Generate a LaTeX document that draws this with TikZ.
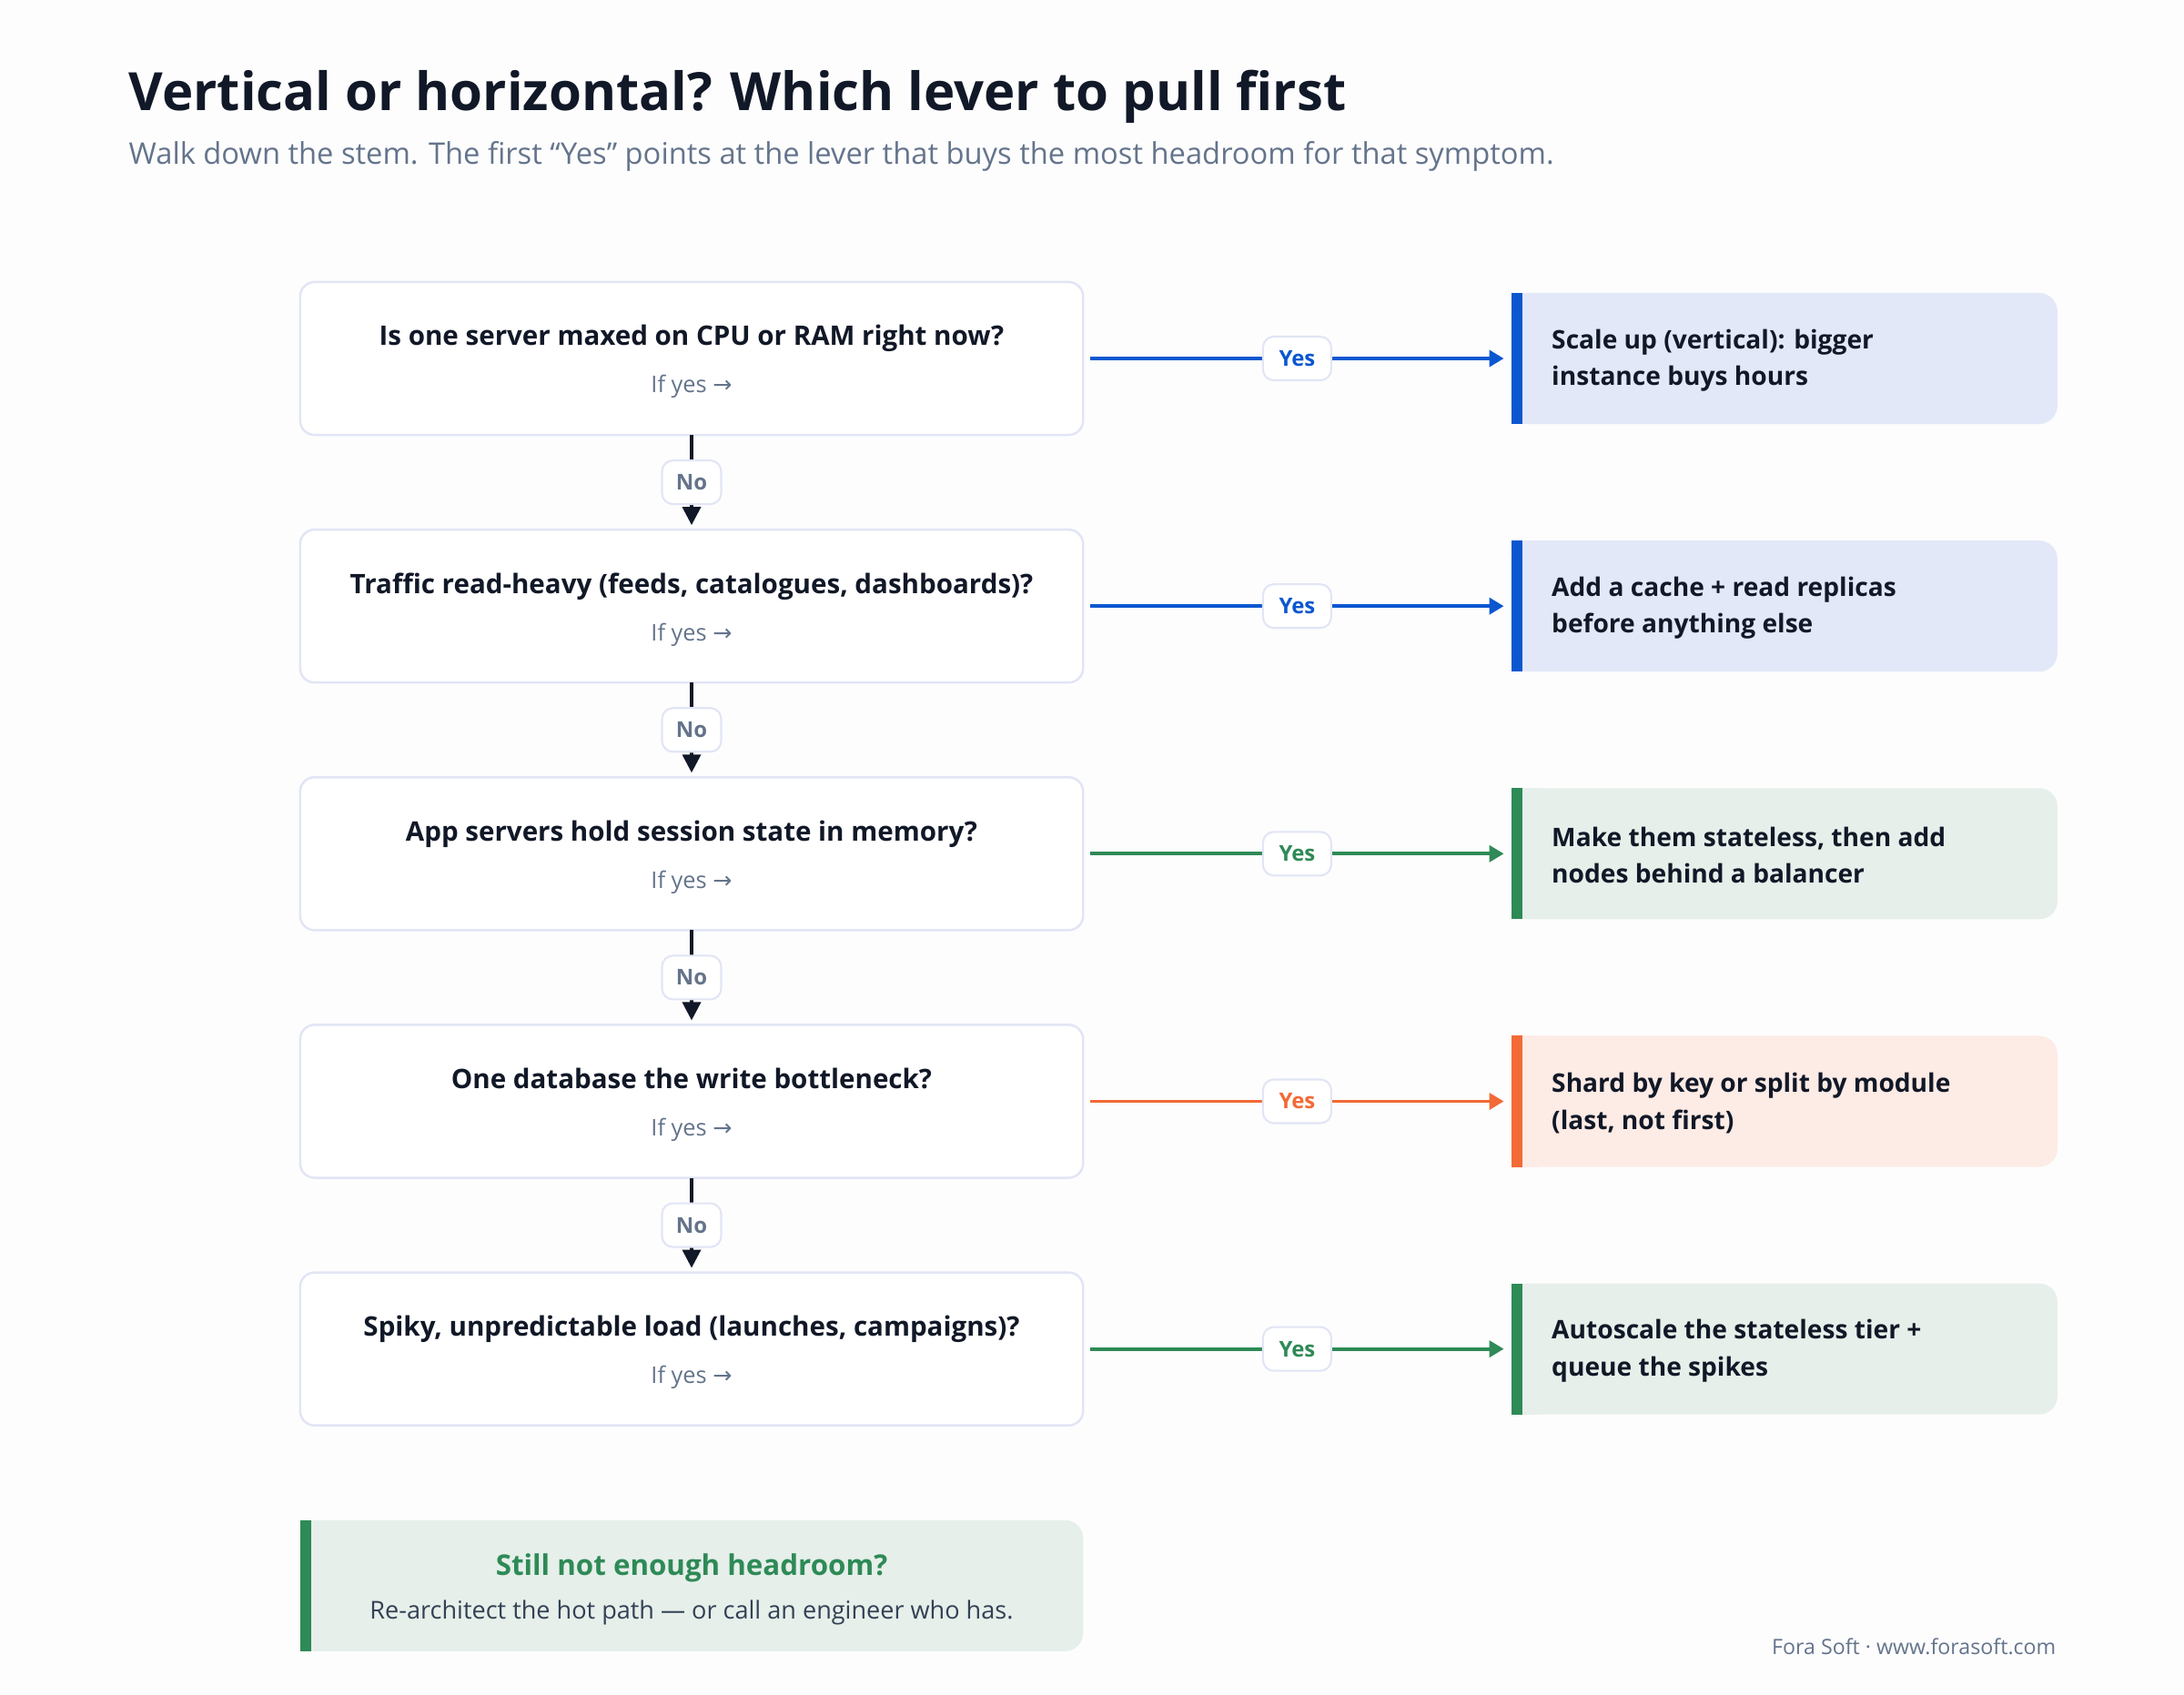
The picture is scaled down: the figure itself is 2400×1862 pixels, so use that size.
\documentclass[tikz,border=0pt]{standalone}
\usepackage{fontspec}
\setmainfont{Open Sans}
\newfontfamily\arrowfont{DejaVu Sans}
\usetikzlibrary{positioning,calc,arrows.meta}

\definecolor{paper}{HTML}{FDFDFE}
\definecolor{ink}{HTML}{111827}
\definecolor{slate}{HTML}{64748B}
\definecolor{body}{HTML}{334155}
\definecolor{edge}{HTML}{E1E5F5}
\definecolor{cblue}{HTML}{0B57D0}
\definecolor{bluefill}{HTML}{E3E8F8}
\definecolor{cgreen}{HTML}{2E8A56}
\definecolor{greenfill}{HTML}{E6EFEA}
\definecolor{corange}{HTML}{F26A36}
\definecolor{orangefill}{HTML}{FDEBE5}

\tikzset{
  title/.style={anchor=base west, inner sep=0pt, text=ink, font=\bfseries\fontsize{16.5}{20}\selectfont},
  sub/.style={anchor=base west, inner sep=0pt, text=slate, font=\fontsize{9.3}{11}\selectfont},
  qbox/.style={draw=edge, line width=0.7pt, fill=white, rounded corners=0.16cm,
    minimum width=8.6cm, minimum height=1.68cm, inner sep=0pt, outer sep=0pt},
  qtext/.style={anchor=base, inner sep=0pt, text=ink, font=\bfseries\fontsize{8.4}{10}\selectfont},
  ifyes/.style={anchor=base, inner sep=0pt, text=slate, font=\fontsize{7.2}{8}\selectfont},
  rbox/.style={rounded corners=0.2cm, minimum width=6cm, minimum height=1.44cm, inner sep=0pt, outer sep=0pt},
  rtext/.style={anchor=west, align=left, inner sep=0pt, text=ink, font=\bfseries\fontsize{8}{11.4}\selectfont},
  tag/.style={draw=edge, line width=0.6pt, fill=white, rounded corners=0.12cm,
    minimum height=0.48cm, inner sep=0pt, font=\bfseries\fontsize{6.8}{8}\selectfont},
  yes/.style={-{Triangle[length=0.16cm,width=0.18cm]}, line width=1.1pt},
  no/.style={-{Triangle[length=0.2cm,width=0.2cm]}, line width=1pt, draw=ink, shorten >=0.05cm},
}

\begin{document}
\begin{tikzpicture}[x=0.01cm, y=0.01cm]
  \fill[paper] (0,0) rectangle (2400,-1862);
  \useasboundingbox (0,0) rectangle (2400,-1862);

  \node[title] (head) at (141,-121) {Vertical or horizontal? Which lever to pull first};
  \node[sub] (subhead) at (141,-180) {Walk down the stem. The first “Yes” points at the lever that buys the most headroom for that symptom.};

  % questions
  \node[qbox] (q1) at (760,-394) {};
  \node[qbox, below=1.04cm of q1] (q2) {};
  \node[qbox, below=1.04cm of q2] (q3) {};
  \node[qbox, below=1.04cm of q3] (q4) {};
  \node[qbox, below=1.04cm of q4] (q5) {};

  \node[qtext] (q1t) at ($(q1.north)+(0,-70)$) {Is one server maxed on CPU or RAM right now?};
  \node[qtext] (q2t) at ($(q2.north)+(0,-70)$) {Traffic read-heavy (feeds, catalogues, dashboards)?};
  \node[qtext] (q3t) at ($(q3.north)+(0,-70)$) {App servers hold session state in memory?};
  \node[qtext] (q4t) at ($(q4.north)+(0,-70)$) {One database the write bottleneck?};
  \node[qtext] (q5t) at ($(q5.north)+(0,-70)$) {Spiky, unpredictable load (launches, campaigns)?};

  \node[ifyes] (q1y) at ($(q1.north)+(0,-122)$) {If yes {\arrowfont →}};
  \node[ifyes] (q2y) at ($(q2.north)+(0,-122)$) {If yes {\arrowfont →}};
  \node[ifyes] (q3y) at ($(q3.north)+(0,-122)$) {If yes {\arrowfont →}};
  \node[ifyes] (q4y) at ($(q4.north)+(0,-122)$) {If yes {\arrowfont →}};
  \node[ifyes] (q5y) at ($(q5.north)+(0,-122)$) {If yes {\arrowfont →}};

  % levers
  \node[rbox, fill=bluefill, right=4.7cm of q1] (r1) {};
  \node[rbox, fill=bluefill, right=4.7cm of q2] (r2) {};
  \node[rbox, fill=greenfill, right=4.7cm of q3] (r3) {};
  \node[rbox, fill=orangefill, right=4.7cm of q4] (r4) {};
  \node[rbox, fill=greenfill, right=4.7cm of q5] (r5) {};

  \fill[bluefill] ($(r1.north west)+(10,0)$) rectangle ($(r1.south west)+(30,0)$);
  \fill[bluefill] ($(r2.north west)+(10,0)$) rectangle ($(r2.south west)+(30,0)$);
  \fill[greenfill] ($(r3.north west)+(10,0)$) rectangle ($(r3.south west)+(30,0)$);
  \fill[orangefill] ($(r4.north west)+(10,0)$) rectangle ($(r4.south west)+(30,0)$);
  \fill[greenfill] ($(r5.north west)+(10,0)$) rectangle ($(r5.south west)+(30,0)$);

  \fill[cblue] (r1.north west) rectangle ($(r1.south west)+(12,0)$);
  \fill[cblue] (r2.north west) rectangle ($(r2.south west)+(12,0)$);
  \fill[cgreen] (r3.north west) rectangle ($(r3.south west)+(12,0)$);
  \fill[corange] (r4.north west) rectangle ($(r4.south west)+(12,0)$);
  \fill[cgreen] (r5.north west) rectangle ($(r5.south west)+(12,0)$);

  \node[rtext] (r1t) at ($(r1.west)+(44,-2)$) {Scale up (vertical): bigger\\instance buys hours};
  \node[rtext] (r2t) at ($(r2.west)+(44,-2)$) {Add a cache + read replicas\\before anything else};
  \node[rtext] (r3t) at ($(r3.west)+(44,-2)$) {Make them stateless, then add\\nodes behind a balancer};
  \node[rtext] (r4t) at ($(r4.west)+(44,-2)$) {Shard by key or split by module\\(last, not first)};
  \node[rtext] (r5t) at ($(r5.west)+(44,-2)$) {Autoscale the stateless tier +\\queue the spikes};

  % yes branches
  \draw[yes, cblue] ($(q1.east)+(8,0)$) -- node[tag, text=cblue, minimum width=0.75cm] (y1) {Yes} ($(r1.west)+(-8,0)$);
  \draw[yes, cblue] ($(q2.east)+(8,0)$) -- node[tag, text=cblue, minimum width=0.75cm] (y2) {Yes} ($(r2.west)+(-8,0)$);
  \draw[yes, cgreen] ($(q3.east)+(8,0)$) -- node[tag, text=cgreen, minimum width=0.75cm] (y3) {Yes} ($(r3.west)+(-8,0)$);
  \draw[yes, corange] ($(q4.east)+(8,0)$) -- node[tag, text=corange, minimum width=0.75cm] (y4) {Yes} ($(r4.west)+(-8,0)$);
  \draw[yes, cgreen] ($(q5.east)+(8,0)$) -- node[tag, text=cgreen, minimum width=0.75cm] (y5) {Yes} ($(r5.west)+(-8,0)$);

  % the stem
  \draw[no] (q1) -- node[tag, text=slate, minimum width=0.65cm] (n1) {No} (q2);
  \draw[no] (q2) -- node[tag, text=slate, minimum width=0.65cm] (n2) {No} (q3);
  \draw[no] (q3) -- node[tag, text=slate, minimum width=0.65cm] (n3) {No} (q4);
  \draw[no] (q4) -- node[tag, text=slate, minimum width=0.65cm] (n4) {No} (q5);

  % fallback
  \node[rbox, fill=greenfill, minimum width=8.6cm, below=1.04cm of q5] (fin) {};
  \fill[greenfill] ($(fin.north west)+(10,0)$) rectangle ($(fin.south west)+(30,0)$);
  \fill[cgreen] (fin.north west) rectangle ($(fin.south west)+(12,0)$);
  \node[anchor=base, inner sep=0pt, text=cgreen, font=\bfseries\fontsize{8.9}{10}\selectfont] (fint) at ($(fin.north)+(0,-61)$) {Still not enough headroom?};
  \node[anchor=base, inner sep=0pt, text=body, font=\fontsize{7.7}{9}\selectfont] (finb) at ($(fin.north)+(0,-109)$) {Re-architect the hot path — or call an engineer who has.};

  \node[anchor=base east, inner sep=0pt, text=slate, font=\fontsize{6.6}{7}\selectfont] (foot) at (2260,-1818) {Fora Soft · www.forasoft.com};
\end{tikzpicture}
\end{document}
